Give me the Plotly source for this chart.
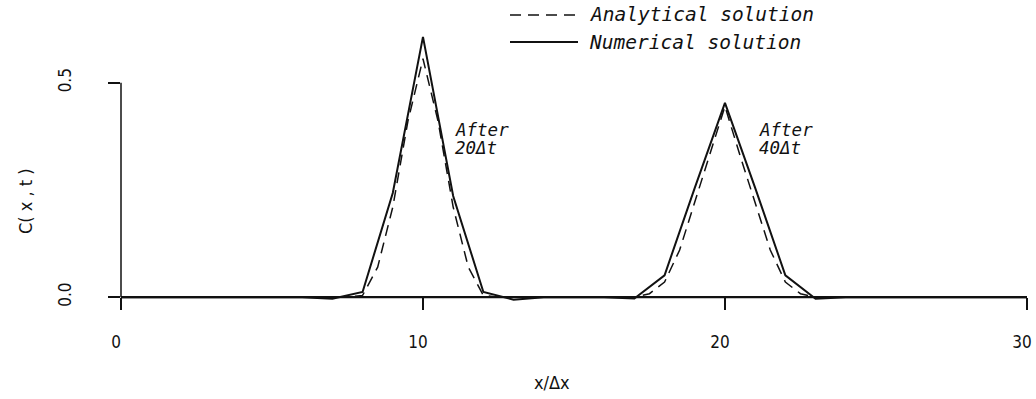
import plotly.graph_objects as go

# ---------------- data ----------------
x_num = list(range(0, 31))
num_20 = [0, 0, 0, 0, 0, 0, 0, -0.004, 0.012, 0.243, 0.607, 0.236, 0.012, -0.006,
          0, 0, 0, 0, 0, 0, 0, 0, 0, 0, 0, 0, 0, 0, 0, 0, 0]
num_40 = [0, 0, 0, 0, 0, 0, 0, 0, 0, 0, 0, 0, 0, 0, 0, 0, 0, -0.003, 0.051, 0.255,
          0.453, 0.255, 0.051, -0.004, 0, 0, 0, 0, 0, 0, 0]

x_ana_20 = [0, 7.5, 8, 8.5, 9, 9.5, 10, 10.5, 11, 11.5, 12, 12.5, 30]
ana_20 = [0, 0, 0.004, 0.07, 0.21, 0.41, 0.556, 0.41, 0.21, 0.07, 0.004, 0, 0]

x_ana_40 = [0, 16.5, 17, 17.5, 18, 18.5, 19, 19.5, 20, 20.5, 21, 21.5, 22, 22.5, 23, 23.5, 30]
ana_40 = [0, 0, 0, 0.008, 0.035, 0.11, 0.22, 0.33, 0.445, 0.33, 0.22, 0.11, 0.035, 0.008, 0, 0, 0]

x_ticks = [0, 10, 20, 30]
x_tick_text = ["0", "10", "20", "30"]
y_ticks = [0, 0.5]
y_tick_text = ["0.0", "0.5"]

labels = [("After", "20Δt", 11.0), ("After", "40Δt", 21.05)]
legend_names = ["Analytical solution", "Numerical solution"]

# ---------------- layout geometry ----------------
W, H = 1036, 399
ML, MR, MT, MB = 121, 9, 27, 89
YMIN, YMAX = -0.03, 0.63
XMIN, XMAX = 0, 30.002
PW, PH = W - ML - MR, H - MT - MB

def px_x(p):
    return (p - ML) / PW

def px_y(p):
    return (H - MB - p) / PH

def yfrac(v):
    return (v - YMIN) / (YMAX - YMIN)

INK = "#111111"
NARROW = "Liberation Sans Narrow, DejaVu Sans Condensed, Roboto"
tick_font = dict(family=NARROW, size=17, color=INK)
ital_font = dict(family="DejaVu Sans Mono", size=19.5, color=INK, style="italic")
lab_font = dict(family="DejaVu Sans Mono", size=17.5, color=INK, style="italic")
DASH = "11px,7px"

fig = go.Figure()
fig.add_trace(go.Scatter(x=x_ana_20, y=ana_20, mode="lines", name=legend_names[0],
                         line=dict(color=INK, width=1.5, dash=DASH), showlegend=False))
fig.add_trace(go.Scatter(x=x_ana_40, y=ana_40, mode="lines", name=legend_names[0],
                         line=dict(color=INK, width=1.5, dash=DASH), showlegend=False))
fig.add_trace(go.Scatter(x=x_num, y=num_20, mode="lines", name=legend_names[1],
                         line=dict(color=INK, width=2), showlegend=False))
fig.add_trace(go.Scatter(x=x_num, y=num_40, mode="lines", name=legend_names[1],
                         line=dict(color=INK, width=2), showlegend=False))

fig.update_layout(
    width=W, height=H,
    margin=dict(l=ML, r=MR, t=MT, b=MB, pad=0),
    paper_bgcolor="white", plot_bgcolor="white",
    showlegend=False,
    xaxis=dict(range=[XMIN, XMAX], tickvals=x_ticks, ticktext=x_tick_text,
               ticks="outside", ticklen=12, tickwidth=1.5, tickcolor=INK,
               showline=True, linecolor=INK, linewidth=1.5,
               showgrid=False, zeroline=False, automargin=False,
               anchor="free", position=yfrac(0),
               tickfont=tick_font, ticklabelstandoff=18, ticklabelshift=-5,
               ticklabeloverflow="allow"),
    yaxis=dict(range=[YMIN, YMAX], tickvals=y_ticks, ticktext=y_tick_text,
               ticks="outside", ticklen=12, tickwidth=1.5, tickcolor=INK,
               showline=False, showgrid=False, zeroline=False, automargin=False,
               tickangle=-90, tickfont=tick_font, ticklabelstandoff=30),
)

# y-axis line (only between 0.0 and 0.5)
fig.add_shape(type="line", xref="paper", yref="paper", x0=0, x1=0,
              y0=yfrac(y_ticks[0]), y1=yfrac(y_ticks[-1]),
              line=dict(color=INK, width=1.5))

# axis titles
fig.add_annotation(text="C( x , t )", xref="paper", yref="paper",
                   x=px_x(26), y=px_y(201), textangle=-90, showarrow=False,
                   xanchor="center", yanchor="middle",
                   font=dict(family=NARROW, size=18, color=INK))
fig.add_annotation(text="x/Δx", xref="paper", yref="paper",
                   x=px_x(552), y=px_y(382), showarrow=False,
                   xanchor="center", yanchor="middle",
                   font=dict(family=NARROW, size=18, color=INK))

# curve labels
for l1, l2, xv in labels:
    fig.add_annotation(text=l1, x=xv, y=0.390, xref="x", yref="y", showarrow=False,
                       xanchor="left", yanchor="middle", font=lab_font)
    fig.add_annotation(text=l2, x=xv, y=0.348, xref="x", yref="y", showarrow=False,
                       xanchor="left", yanchor="middle", font=lab_font)

# manual legend
for i, (name, dash, wid) in enumerate([(legend_names[0], DASH, 1.5), (legend_names[1], "solid", 2)]):
    py = [15, 42][i]
    fig.add_shape(type="line", xref="paper", yref="paper",
                  x0=px_x(510), x1=px_x(578), y0=px_y(py), y1=px_y(py),
                  line=dict(color=INK, width=wid, dash=dash))
    fig.add_annotation(text=name, xref="paper", yref="paper", x=px_x(587), y=px_y(py),
                       showarrow=False, xanchor="left", yanchor="middle", font=ital_font)

fig.write_html("out.html")
